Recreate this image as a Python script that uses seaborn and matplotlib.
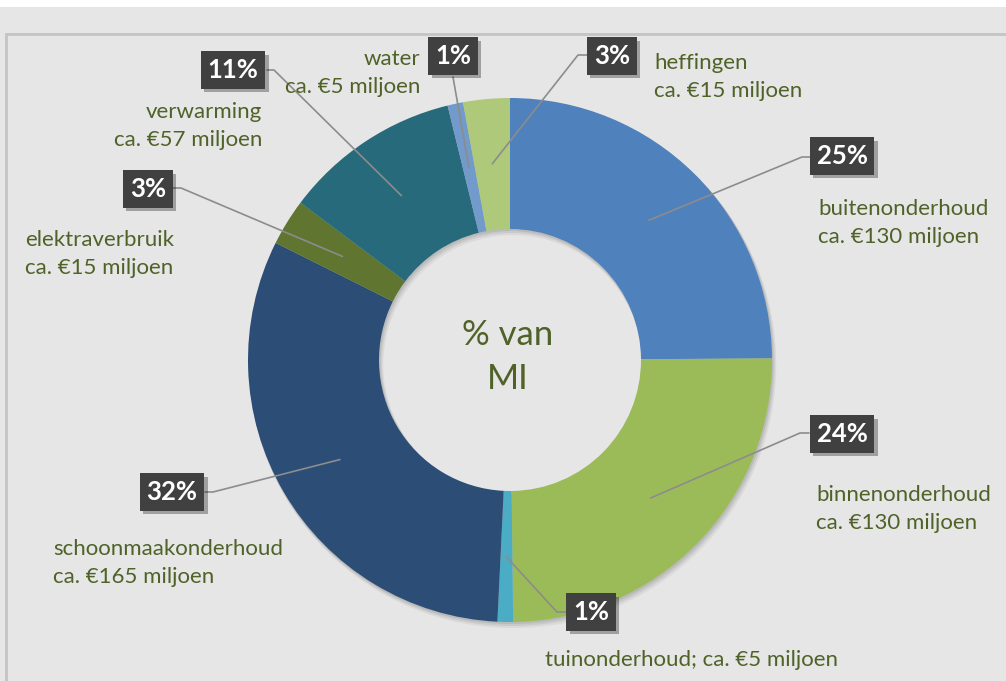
import numpy as np
import matplotlib.pyplot as plt
import matplotlib.patheffects as pe
from matplotlib.patches import Rectangle, Wedge
import seaborn as sns

# data: kosten per post (ca. € miljoen)
categories = ["buitenonderhoud", "binnenonderhoud", "tuinonderhoud", "schoonmaakonderhoud",
              "elektraverbruik", "verwarming", "water", "heffingen"]
amounts = [130, 130, 5, 165, 15, 57, 5, 15]
pct_labels = ["25%", "24%", "1%", "32%", "3%", "11%", "1%", "3%"]
name_labels = ["buitenonderhoud\nca. €130 miljoen",
               "binnenonderhoud\nca. €130 miljoen",
               "tuinonderhoud; ca. €5 miljoen",
               "schoonmaakonderhoud\nca. €165 miljoen",
               "elektraverbruik\nca. €15 miljoen",
               "verwarming\nca. €57 miljoen",
               "water\nca. €5 miljoen",
               "heffingen\nca. €15 miljoen"]
center_label = "% van\nMI"

colors = sns.color_palette(["#4f81bd", "#9bbb59", "#4bacc6", "#2c4d75",
                            "#5f7530", "#276a7c", "#729aca", "#afc97a"])
text_green = "#4f6228"
bg = "#e6e6e6"

# label layout in pixels: box centre, leader points (box end, elbow), name position, alignment
layout = [
    ((842, 156), [(810, 157), (802, 157)], (818, 223), "left"),
    ((842, 434), [(809, 433), (800, 433)], (816, 509), "left"),
    ((591, 612), [(566, 612), (557, 612)], (545, 660), "left"),
    ((172, 492), [(205, 492), (213, 492)], (53, 563), "left"),
    ((148, 189), [(173, 188), (181, 188)], (25, 254), "left"),
    ((233, 70), [(267, 70), (274, 70)], (262, 126), "right"),
    ((453, 56), [(453, 77)], (420, 73), "right"),
    ((612, 56), [(587, 55), (578, 55)], (654, 77), "left"),
]

W, H = 1006, 681
cx, cy, R = 510, 360, 262


def px(p):
    return ((p[0] - cx) / R, (cy - p[1]) / R)


sns.set_theme(style="white")
plt.rcParams['font.family'] = ['Lato', 'DejaVu Sans']

fig = plt.figure(figsize=(W / 100, H / 100), dpi=100, facecolor=bg)
# white strip at the top and the chart frame
fig.patches.append(Rectangle((0, 1 - 7 / H), 1, 7 / H, transform=fig.transFigure,
                             facecolor="white", edgecolor="none", zorder=-2))
fig.patches.append(Rectangle((6 / W, -0.05), 1.1, 1 - 34 / H + 0.05, transform=fig.transFigure,
                             facecolor="none", edgecolor="#c4c4c4", linewidth=2, zorder=-1))

ax = fig.add_axes([0, 0, 1, 1])
ax.set_facecolor("none")

# soft shadow under the ring
for off, a in [(0.018, 0.05), (0.012, 0.07), (0.006, 0.08)]:
    ax.add_patch(Wedge((off * 0.6, -off), 1.0 + off * 0.3, 0, 360, width=0.5 + off * 0.6,
                       facecolor="black", alpha=a, edgecolor="none"))

wedges, _ = ax.pie(amounts, colors=colors, startangle=90, counterclock=False, radius=1,
                   wedgeprops=dict(width=0.5, edgecolor="none", linewidth=0))

ax.text(-0.01, (cy - 357) / R, center_label, ha="center", va="center", fontsize=25,
        color=text_green, linespacing=1.45)

total = sum(amounts)
cum = np.cumsum([0] + amounts)
for i, (box, pts, name_pos, ha) in enumerate(layout):
    mid = (cum[i] + amounts[i] / 2) / total
    ang = np.deg2rad(90 - mid * 360)
    anchor = (0.752 * np.cos(ang), 0.752 * np.sin(ang))
    line = [px(p) for p in pts] + [anchor]
    ax.plot([p[0] for p in line], [p[1] for p in line], color="#8c8c8c", lw=1.2, zorder=3)

    bx, by = px(box)
    t = ax.text(bx, by, pct_labels[i], ha="center", va="center", fontsize=18.5,
                fontweight="bold", color="white", zorder=5,
                bbox=dict(boxstyle="square,pad=0.27", facecolor="#404040", edgecolor="none"))
    t.get_bbox_patch().set_path_effects([
        pe.SimplePatchShadow(offset=(2.5, -2.5), shadow_rgbFace="black", alpha=0.3),
        pe.Normal()])

    nx, ny = px(name_pos)
    ax.text(nx, ny, name_labels[i], ha=ha, va="center", multialignment=ha, fontsize=16,
            color=text_green, linespacing=1.45, zorder=4)

ax.set_xlim(-cx / R, (W - cx) / R)
ax.set_ylim(-(H - cy) / R, cy / R)
ax.set_aspect("auto")
ax.axis("off")

plt.savefig("out.png", dpi=100, facecolor=bg)
